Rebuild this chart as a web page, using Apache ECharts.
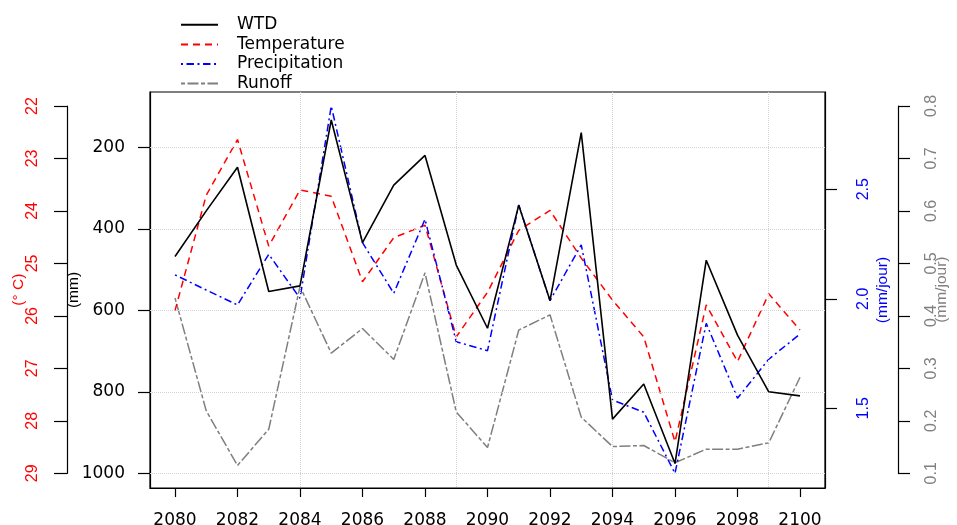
<!DOCTYPE html>
<html>
<head>
<meta charset="utf-8">
<script src="https://cdn.jsdelivr.net/npm/echarts@6/dist/echarts.min.js"></script>
<style>
  html, body { margin: 0; padding: 0; background: #fff; }
  #chart { width: 957px; height: 525px; }
</style>
</head>
<body>
<div id="chart"></div>
<script>
// data
var years = [2080, 2081, 2082, 2083, 2084, 2085, 2086, 2087, 2088, 2089, 2090,
             2091, 2092, 2093, 2094, 2095, 2096, 2097, 2098, 2099, 2100];
var wtd = [468, 356, 249, 554, 540, 133, 434, 293, 220, 489, 644,
           342, 576, 164, 867, 781, 976, 477, 661, 800, 810];           // mm
var temperature = [25.90, 23.70, 22.64, 24.67, 23.60, 23.72, 25.35, 24.51, 24.27, 26.40, 25.55,
                   24.37, 23.99, 24.90, 25.70, 26.40, 28.40, 25.79, 26.87, 25.58, 26.27]; // deg C
var precipitation = [2.109, 2.040, 1.972, 2.203, 2.002, 2.880, 2.256, 2.025, 2.363, 1.804, 1.763,
                     2.428, 1.991, 2.246, 1.538, 1.482, 1.203, 1.888, 1.546, 1.724, 1.839]; // mm/jour
var runoff = [0.434, 0.219, 0.115, 0.184, 0.456, 0.329, 0.376, 0.317, 0.482, 0.217, 0.149,
              0.373, 0.402, 0.207, 0.151, 0.153, 0.120, 0.146, 0.146, 0.158, 0.283]; // mm/jour
var yearTicks = [2080, 2082, 2084, 2086, 2088, 2090, 2092, 2094, 2096, 2098, 2100];
var gridYears = [2084, 2089, 2094, 2099];
var mmTicks = [200, 400, 600, 800, 1000];
var precipTicks = [1.5, 2.0, 2.5];

var HFONT = 'DejaVu Sans';     // horizontal text
var VFONT = 'Liberation Sans'; // rotated text

function pairs(vals) {
  return years.map(function (y, i) { return [y, vals[i]]; });
}
function plain(v) { return String(v); }
function oneDec(v) { return v.toFixed(1); }

var gridMarks = mmTicks.map(function (v) { return { yAxis: v }; })
  .concat(gridYears.map(function (v) { return { xAxis: v }; }));

var chart = echarts.init(document.getElementById('chart'));
chart.setOption({
  animation: false,
  backgroundColor: '#fff',
  grid: [
    { left: 150, right: 132, top: 92, bottom: 37, outerBoundsMode: 'none', containLabel: false,
      show: true, borderColor: '#000', borderWidth: 1.2 },
    { left: 150, right: 132, top: 106, bottom: 51.7, outerBoundsMode: 'none', containLabel: false }
  ],
  legend: {
    orient: 'vertical', left: 175, top: 10,
    itemWidth: 37, itemHeight: 10, itemGap: 0,
    itemStyle: { color: 'rgba(0,0,0,0)', borderColor: 'rgba(0,0,0,0)', borderWidth: 0 },
    textStyle: { fontFamily: HFONT, fontSize: 17, color: '#000', lineHeight: 19.6, padding: [0, 0, 0, 14] },
    data: ['WTD', 'Temperature', 'Precipitation', 'Runoff']
  },
  xAxis: [
    {
      type: 'value', gridIndex: 0, min: 2079.2, max: 2100.8,
      axisLine: { show: true, lineStyle: { color: '#000', width: 1.2 } },
      axisTick: { show: true, length: 9, customValues: yearTicks, lineStyle: { color: '#000', width: 1.2 } },
      axisLabel: { customValues: yearTicks, margin: 24, fontFamily: HFONT, fontSize: 17, color: '#000', formatter: plain },
      splitLine: { show: false }
    },
    { type: 'value', gridIndex: 1, min: 2079.2, max: 2100.8, show: false }
  ],
  yAxis: [
    { // WTD (mm)
      type: 'value', gridIndex: 0, position: 'left', inverse: true, min: 64.3, max: 1036,
      name: '(mm)', nameLocation: 'middle', nameRotate: 90, nameGap: 68, nameMoveOverlap: false,
      nameTextStyle: { fontFamily: VFONT, fontSize: 15.5, color: '#000' },
      axisLine: { show: true, lineStyle: { color: '#000', width: 1.2 } },
      axisTick: { show: true, length: 12, customValues: mmTicks, lineStyle: { color: '#000', width: 1.2 } },
      axisLabel: { customValues: mmTicks, margin: 25, fontFamily: HFONT, fontSize: 17, color: '#000', formatter: plain },
      splitLine: { show: false }
    },
    { // Precipitation (mm/jour)
      type: 'value', gridIndex: 0, position: 'right', min: 1.136, max: 2.944,
      name: '(mm/jour)', nameLocation: 'middle', nameRotate: 90, nameGap: 50, nameMoveOverlap: false,
      nameTextStyle: { fontFamily: VFONT, fontSize: 15.5, color: '#0000ff' },
      axisLine: { show: true, lineStyle: { color: '#000', width: 1.2 } },
      axisTick: { show: true, length: 12, customValues: precipTicks, lineStyle: { color: '#000', width: 1.2 } },
      axisLabel: {
        customValues: precipTicks, rotate: 90, margin: 31, fontFamily: VFONT, fontSize: 16, color: '#0000ff',
        formatter: oneDec
      },
      splitLine: { show: false }
    },
    { // Temperature
      type: 'value', gridIndex: 1, position: 'left', offset: 83, inverse: true, min: 22, max: 29, interval: 1,
      name: '(° C)', nameLocation: 'middle', nameRotate: 90, nameGap: 40, nameMoveOverlap: false,
      nameTextStyle: { fontFamily: VFONT, fontSize: 15.5, color: '#ff0000' },
      axisLine: { show: true, lineStyle: { color: '#000', width: 1.2 } },
      axisTick: { show: true, length: 13, lineStyle: { color: '#000', width: 1.2 } },
      axisLabel: { rotate: 90, margin: 26, fontFamily: VFONT, fontSize: 16, color: '#ff0000', formatter: plain },
      splitLine: { show: false }
    },
    { // Runoff
      type: 'value', gridIndex: 1, position: 'right', offset: 73, min: 0.1, max: 0.8, interval: 0.1,
      name: '(mm/jour)', nameLocation: 'middle', nameRotate: 90, nameGap: 36, nameMoveOverlap: false,
      nameTextStyle: { fontFamily: VFONT, fontSize: 15.5, color: '#808080' },
      axisLine: { show: true, lineStyle: { color: '#000', width: 1.2 } },
      axisTick: { show: true, length: 12, lineStyle: { color: '#000', width: 1.2 } },
      axisLabel: { rotate: 90, margin: 26, fontFamily: VFONT, fontSize: 16, color: '#808080', formatter: oneDec },
      splitLine: { show: false }
    }
  ],
  series: [
    {
      name: 'WTD', type: 'line', xAxisIndex: 0, yAxisIndex: 0, data: pairs(wtd),
      symbol: 'none', clip: false, z: 5,
      lineStyle: { color: '#000', width: 1.6, type: 'solid' },
      itemStyle: { color: '#000' },
      markLine: {
        silent: true, symbol: ['none', 'none'], label: { show: false },
        lineStyle: { color: '#d3d3d3', type: 'dotted', width: 1 },
        data: gridMarks
      }
    },
    {
      name: 'Temperature', type: 'line', xAxisIndex: 1, yAxisIndex: 2, data: pairs(temperature),
      symbol: 'none', clip: false, z: 4,
      lineStyle: { color: '#ff0000', width: 1.5, type: [7, 5] },
      itemStyle: { color: '#ff0000' }
    },
    {
      name: 'Precipitation', type: 'line', xAxisIndex: 0, yAxisIndex: 1, data: pairs(precipitation),
      symbol: 'none', clip: false, z: 4,
      lineStyle: { color: '#0000ff', width: 1.5, type: [2, 3.5, 7.5, 3.5] },
      itemStyle: { color: '#0000ff' }
    },
    {
      name: 'Runoff', type: 'line', xAxisIndex: 1, yAxisIndex: 3, data: pairs(runoff),
      symbol: 'none', clip: false, z: 3,
      lineStyle: { color: '#7f7f7f', width: 1.5, type: [4, 2.5, 11, 2.5] },
      itemStyle: { color: '#7f7f7f' }
    }
  ]
});
</script>
</body>
</html>
